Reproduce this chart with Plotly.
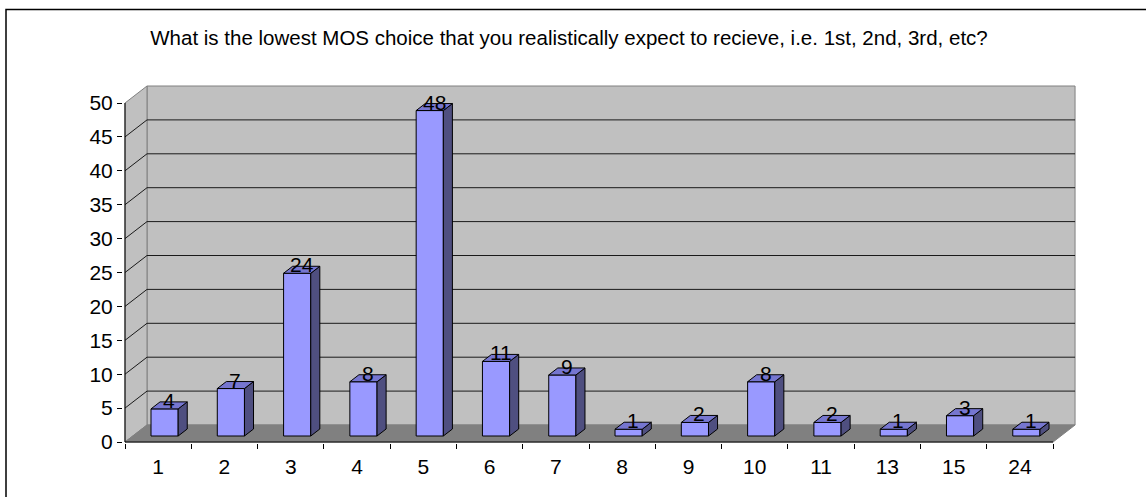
import plotly.graph_objects as go

# ---- data -------------------------------------------------------------
categories = ["1", "2", "3", "4", "5", "6", "7", "8", "9", "10", "11", "13", "15", "24"]
counts = [4, 7, 24, 8, 48, 11, 9, 1, 2, 8, 2, 1, 3, 1]
y_ticks = [0, 5, 10, 15, 20, 25, 30, 35, 40, 45, 50]
title_text = ("What is the lowest MOS choice that you realistically expect to recieve, "
              "i.e. 1st, 2nd, 3rd, etc?")

# ---- styling / geometry ----------------------------------------------
FONT = "Liberation Sans, Arial, sans-serif"
W, H = 1146, 497
n = len(categories)
y_max = y_ticks[-1]

# pixel layout of the front plane
PX_X0, PX_PER_CAT = 125.0, 66.29     # x = 0 pixel, pixels per category
PX_Y0, PX_PER_UNIT = 442.0, 6.78     # y = 0 pixel, pixels per unit
M_L, M_R, M_T, M_B = 123, 63, 81, 54

x_range = [(M_L - PX_X0) / PX_PER_CAT, (W - M_R - PX_X0) / PX_PER_CAT]
y_range = [(PX_Y0 - (H - M_B)) / PX_PER_UNIT, (PX_Y0 - M_T) / PX_PER_UNIT]

DEPTH_X = 22 / PX_PER_CAT     # oblique depth offset in category units
DEPTH_Y = 17 / PX_PER_UNIT    # oblique depth offset in value units
BAR_W, BAR_SHIFT = 0.41, -0.02
D_FRONT, D_BACK = 0.353, 0.765

WALL = "#C0C0C0"
FLOOR = "#808080"
EDGE = "#808080"
FRONT = "#9999FF"
SIDE = "#4F4F80"
TOP = "#7676D0"

TICK_SIZE = 21
TITLE_SIZE = 20.5


def proj(x, y, d):
    return x + d * DEPTH_X, y + d * DEPTH_Y


def poly(points, fill, line_color, width=1):
    xs = [p[0] for p in points] + [points[0][0]]
    ys = [p[1] for p in points] + [points[0][1]]
    return go.Scatter(x=xs, y=ys, mode="lines", fill="toself", fillcolor=fill,
                      line=dict(color=line_color, width=width), hoverinfo="skip")


fig = go.Figure()

# walls and floor
fig.add_trace(poly([proj(0, 0, 1), proj(n, 0, 1), proj(n, y_max, 1), proj(0, y_max, 1)], WALL, EDGE))
fig.add_trace(poly([(0, 0), proj(0, 0, 1), proj(0, y_max, 1), (0, y_max)], WALL, EDGE))
fig.add_trace(poly([(0, 0), (n, 0), proj(n, 0, 1), proj(0, 0, 1)], FLOOR, EDGE))

# gridlines on back and side walls
gx, gy = [], []
for v in y_ticks[1:-1]:
    a, b = proj(0, v, 1), proj(n, v, 1)
    gx += [0, a[0], b[0], None]
    gy += [v, a[1], b[1], None]
fig.add_trace(go.Scatter(x=gx, y=gy, mode="lines", line=dict(color="#1a1a1a", width=1),
                         hoverinfo="skip"))

# axis lines on the front plane
fig.add_trace(go.Scatter(x=[0, 0, None, 0, n], y=[0, y_max, None, 0, 0], mode="lines",
                         line=dict(color="black", width=1), hoverinfo="skip"))

# 3-D columns
for i, v in enumerate(counts):
    c = i + 0.5 + BAR_SHIFT
    left, right = c - BAR_W / 2, c + BAR_W / 2
    fig.add_trace(poly([proj(left, 0, D_FRONT), proj(right, 0, D_FRONT),
                        proj(right, v, D_FRONT), proj(left, v, D_FRONT)], FRONT, "black"))
    fig.add_trace(poly([proj(right, 0, D_FRONT), proj(right, 0, D_BACK),
                        proj(right, v, D_BACK), proj(right, v, D_FRONT)], SIDE, "black"))
    fig.add_trace(poly([proj(left, v, D_FRONT), proj(right, v, D_FRONT),
                        proj(right, v, D_BACK), proj(left, v, D_BACK)], TOP, "black"))

# value labels sitting on the column tops
for i, v in enumerate(counts):
    c = i + 0.5 + BAR_SHIFT
    lx, _ = proj(c, v, (D_FRONT + D_BACK) / 2)
    _, ly = proj(c, v, D_FRONT)
    fig.add_annotation(x=lx, y=ly, xref="x", yref="y", text=str(v), showarrow=False,
                       xanchor="center", yanchor="bottom", yshift=-5,
                       font=dict(family=FONT, size=TICK_SIZE, color="black"))

# outer chart frame
def px_to_paper_x(px):
    return (px - M_L) / (W - M_L - M_R)


def px_to_paper_y(py):
    return ((H - M_B) - py) / (H - M_T - M_B)


fig.add_shape(type="rect", xref="paper", yref="paper",
              x0=px_to_paper_x(6), x1=px_to_paper_x(W + 10),
              y0=px_to_paper_y(H + 10), y1=px_to_paper_y(9.5),
              line=dict(color="black", width=1.5), fillcolor="rgba(0,0,0,0)", layer="above")

fig.update_layout(
    width=W, height=H,
    margin=dict(l=M_L, r=M_R, t=M_T, b=M_B),
    paper_bgcolor="white", plot_bgcolor="white",
    showlegend=False,
    title=dict(text=title_text, x=569 / W, xref="container", xanchor="center",
               y=1 - 38 / H, yref="container", yanchor="middle",
               font=dict(family=FONT, size=TITLE_SIZE, color="black")),
    xaxis=dict(range=x_range, tickmode="array", tickvals=[i + 0.5 for i in range(n)],
               ticktext=categories, ticks="", showgrid=False, zeroline=False, showline=False,
               tickfont=dict(family=FONT, size=TICK_SIZE, color="black"), ticklabelstandoff=9,
               minor=dict(tickmode="array", tickvals=list(range(n + 1)), ticks="outside",
                          ticklen=5, tickcolor="black", tickwidth=1, showgrid=False),
               fixedrange=True),
    yaxis=dict(range=y_range, tickmode="array", tickvals=y_ticks, ticks="outside", ticklen=5,
               tickcolor="black", tickwidth=1, showgrid=False, zeroline=False, showline=False,
               tickfont=dict(family=FONT, size=TICK_SIZE, color="black"), fixedrange=True),
)

fig.write_html("out.html")
